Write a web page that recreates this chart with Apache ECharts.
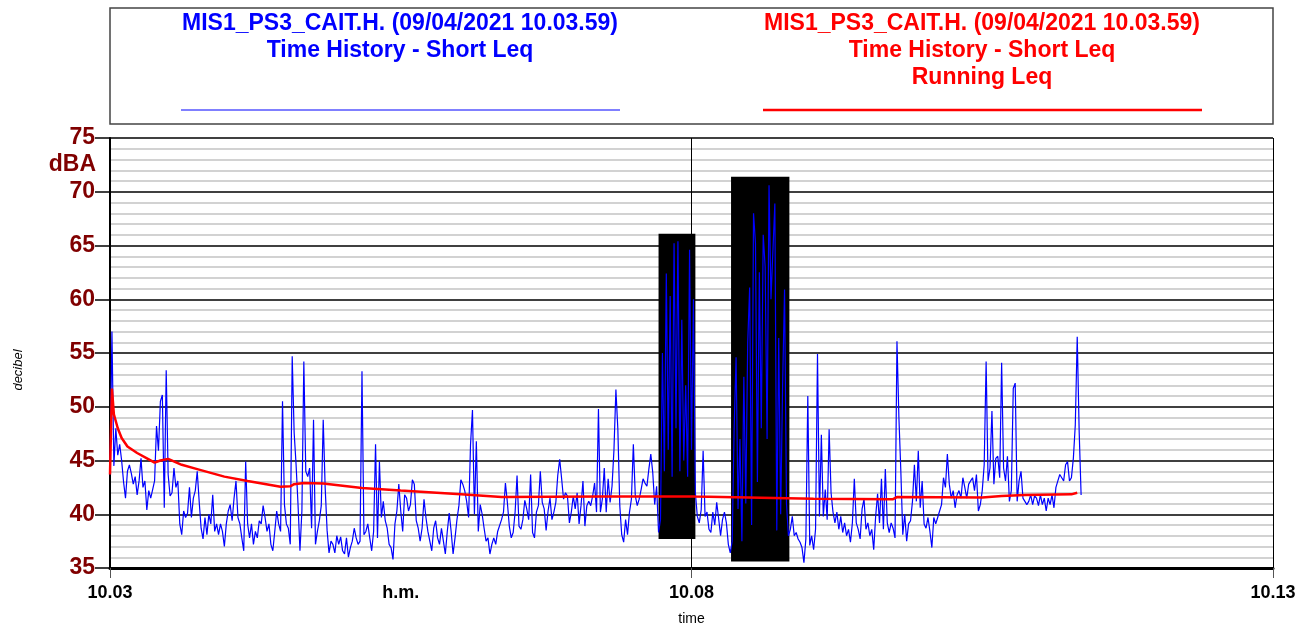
<!DOCTYPE html>
<html><head><meta charset="utf-8">
<script src="https://cdn.jsdelivr.net/npm/echarts/dist/echarts.min.js"></script>
<style>html,body{margin:0;padding:0;background:#fff}#c{width:1306px;height:628px}</style>
</head><body><div id="c"></div>
<script>
// Short Leq values (dBA), one per second starting at 10.03
const shortLeq000 = [43.7, 57.0, 44.5, 48.0, 45.5, 46.5, 45.0, 43.0, 41.5, 44.0,
  44.6, 43.8, 42.8, 43.5, 41.8, 43.1, 45.2, 42.5, 43.1, 40.4,
  42.2, 41.5, 42.3, 43.1, 48.2, 45.9, 50.5, 51.1, 40.6, 53.4,
  43.7, 41.7, 42.0, 44.3, 42.5, 43.1, 39.1, 38.1, 40.3, 39.7,
  40.1, 42.5, 39.7, 41.5, 42.2, 44.0, 41.2, 38.7, 37.7, 39.7,
  38.1, 40.0, 39.1, 41.8, 38.4, 39.1, 38.1, 39.1, 38.4, 37.0,
  39.1, 40.3, 40.9, 39.4, 41.5, 43.1, 39.7, 39.1, 37.8, 36.6,
  44.9, 39.1, 37.8, 39.1, 37.2, 38.4, 37.8, 39.4, 39.1, 40.8,
  39.7, 38.4, 39.1, 37.2, 36.6, 38.4, 40.3, 39.1, 38.4, 50.5,
  40.9, 39.1, 38.7, 37.2, 54.7, 47.6, 44.6, 40.9, 36.6, 40.3];
const shortLeq100 = [54.2, 44.0, 43.5, 44.3, 38.7, 48.8, 37.2, 38.4, 39.4, 40.8,
  48.8, 42.5, 38.5, 36.4, 37.5, 37.2, 36.4, 38.0, 37.2, 37.9,
  36.6, 36.3, 37.8, 36.0, 36.9, 37.5, 38.7, 37.8, 37.2, 37.5,
  53.3, 38.1, 38.4, 39.1, 37.8, 36.6, 38.4, 46.5, 37.8, 44.9,
  39.7, 41.2, 39.4, 38.7, 37.2, 36.9, 35.8, 39.1, 40.3, 42.8,
  40.3, 38.4, 41.8, 41.5, 40.3, 40.9, 43.2, 42.8, 39.4, 38.7,
  37.5, 38.7, 41.4, 39.7, 38.4, 37.5, 36.6, 38.7, 39.4, 37.8,
  37.2, 38.7, 37.5, 36.3, 38.4, 40.1, 38.4, 36.3, 37.8, 39.5,
  40.8, 43.2, 42.8, 42.2, 41.2, 39.7, 46.5, 49.7, 40.0, 46.8,
  38.4, 40.9, 40.0, 38.7, 37.5, 37.8, 36.3, 37.2, 37.8, 37.2];
const shortLeq200 = [38.4, 38.3, 39.5, 40.2, 42.9, 41.1, 38.9, 37.8, 38.3, 40.2,
  43.6, 38.9, 38.6, 39.5, 41.3, 40.5, 39.5, 43.7, 38.3, 37.8,
  40.2, 40.8, 44.0, 41.1, 40.5, 38.5, 40.3, 41.5, 39.5, 40.2,
  41.1, 43.6, 45.1, 43.3, 41.4, 42.0, 41.7, 39.2, 40.2, 41.7,
  40.5, 42.0, 39.1, 40.8, 43.1, 38.9, 40.8, 41.2, 40.8, 41.7,
  42.9, 40.2, 49.8, 40.2, 41.4, 44.3, 40.2, 43.3, 41.1, 42.6,
  46.0, 51.6, 47.9, 40.8, 38.1, 37.4, 39.5, 38.1, 40.2, 41.4,
  46.5, 41.7, 40.8, 41.4, 42.3, 43.3, 42.9, 42.6, 44.2, 45.6,
  43.9, 40.9, 42.6, 38.3, 39.5, 55.0, 44.0, 62.4, 46.0, 60.3,
  43.5, 65.2, 48.0, 65.4, 44.0, 58.1, 45.0, 52.0, 43.5, 64.6];
const shortLeq300 = [46.0, 60.0, 42.0, 39.8, 39.2, 40.4, 45.9, 39.8, 40.2, 38.6,
  38.3, 40.2, 39.0, 41.1, 39.6, 38.0, 39.5, 40.2, 39.2, 37.2,
  36.4, 37.5, 48.0, 54.6, 40.5, 47.0, 37.5, 52.8, 41.0, 56.0,
  61.1, 39.0, 68.0, 65.2, 43.0, 62.5, 48.0, 66.0, 63.0, 47.0,
  70.6, 60.0, 64.5, 68.9, 38.5, 56.4, 40.0, 52.0, 60.9, 41.0,
  38.0, 38.6, 39.8, 38.0, 38.3, 37.7, 37.4, 36.9, 35.5, 37.7,
  51.0, 37.1, 38.0, 36.7, 38.6, 54.9, 39.8, 47.4, 39.8, 42.3,
  39.5, 47.9, 42.0, 40.2, 39.2, 40.2, 38.6, 39.8, 38.3, 39.2,
  38.0, 38.6, 37.4, 39.2, 43.3, 39.2, 38.6, 37.7, 40.5, 41.4,
  38.6, 39.2, 38.0, 38.6, 36.7, 39.8, 41.9, 39.2, 43.3, 38.6];
const shortLeq400 = [44.2, 39.2, 38.3, 39.2, 38.7, 37.8, 56.1, 49.0, 44.0, 38.1,
  40.0, 37.5, 39.1, 39.4, 41.2, 44.6, 41.2, 45.9, 40.6, 43.1,
  39.1, 38.7, 39.7, 38.4, 36.9, 39.7, 39.1, 39.7, 40.3, 40.9,
  43.4, 42.5, 45.6, 42.8, 41.5, 42.2, 40.6, 41.8, 42.2, 41.5,
  43.4, 42.5, 41.5, 42.8, 43.1, 43.4, 42.2, 43.7, 40.3, 40.9,
  42.2, 44.6, 54.2, 43.1, 44.3, 49.6, 42.8, 45.2, 45.4, 43.4,
  54.1, 44.3, 43.1, 45.4, 41.2, 42.2, 51.7, 52.2, 41.2, 43.1,
  44.0, 41.5, 41.2, 40.9, 41.2, 41.8, 40.9, 41.7, 41.5, 40.8,
  41.8, 40.9, 41.5, 40.3, 41.5, 40.9, 41.8, 40.6, 42.5, 43.1,
  43.7, 43.4, 43.1, 44.6, 44.9, 43.1, 43.4, 45.2, 48.3, 56.5,
  47.7, 41.8];

// Running Leq (seconds after 10.03, dBA)
const runningSec = [0, 1, 2, 4, 6, 9, 14, 20, 23, 26, 30, 37, 45, 59, 71, 88, 93, 95, 100, 110,
  130, 150, 181, 202, 253, 299, 302, 363, 404, 406, 450, 460, 472, 496, 499];
const runningDb = [43.7, 51.7, 49.3, 48.0, 47.1, 46.3, 45.7, 45.1, 44.8, 45.0, 45.15, 44.6, 44.2, 43.5, 43.1, 42.55, 42.6, 42.8, 42.9, 42.85,
  42.45, 42.2, 41.85, 41.6, 41.65, 41.65, 41.64, 41.45, 41.4, 41.6, 41.55, 41.7, 41.8, 41.85, 42.0];

// Masked periods: [startSec, endSec, lowDb, highDb]
const maskedPeriods = [[283, 302, 37.7, 66.1], [320.4, 350.5, 35.6, 71.4]];

const xTickSec = [0, 300, 600];
const xTickLabels = ['10.03', '10.08', '10.13'];
const xUnitLabel = 'h.m.';
const yTicks = [35, 40, 45, 50, 55, 60, 65, 70, 75];
const titleLine = 'MIS1_PS3_CAIT.H. (09/04/2021 10.03.59)';
const subLine = 'Time History - Short Leq';
const runLine = 'Running Leq';

const shortLeq = [].concat(shortLeq000, shortLeq100, shortLeq200, shortLeq300, shortLeq400);
const blueData = shortLeq.map((v, i) => [i, v]);
const redData = runningSec.map((s, i) => [s, runningDb[i]]);

const FONT = 'Liberation Sans, Arial, sans-serif';
const chart = echarts.init(document.getElementById('c'), null, {renderer: 'canvas'});
chart.setOption({
  animation: false,
  backgroundColor: '#fff',
  grid: {left: 110, right: 33, top: 138, bottom: 60, containLabel: false, outerBoundsMode: 'none'},
  xAxis: [{
    type: 'value', min: xTickSec[0], max: xTickSec[xTickSec.length - 1], interval: 300,
    name: 'time', nameLocation: 'middle', nameGap: 44,
    nameTextStyle: {color: '#000', fontSize: 14, fontFamily: FONT},
    axisLine: {show: true, onZero: false, lineStyle: {color: '#000', width: 3}},
    axisTick: {show: true, length: 10, lineStyle: {color: '#555', width: 1}},
    axisLabel: {margin: 16, color: '#000', fontSize: 18, fontWeight: 'bold', fontFamily: FONT,
      formatter: v => { const k = xTickSec.indexOf(v); return k >= 0 ? xTickLabels[k] : ''; }},
    splitLine: {show: true, lineStyle: {color: '#000', width: 1}}
  }, {
    type: 'value', min: 0, max: 600, interval: 150, position: 'bottom',
    axisLine: {show: false}, axisTick: {show: false}, splitLine: {show: false},
    axisLabel: {margin: 16, color: '#000', fontSize: 18, fontWeight: 'bold', fontFamily: FONT,
      formatter: v => v === 150 ? xUnitLabel : ''}
  }],
  yAxis: {
    type: 'value', min: yTicks[0], max: yTicks[yTicks.length - 1], interval: 5,
    axisLine: {show: true, onZero: false, lineStyle: {color: '#000', width: 2}},
    axisTick: {show: true, length: 15, lineStyle: {color: '#000', width: 1.5}},
    axisLabel: {margin: 15, color: '#800000', fontSize: 23, fontWeight: 'bold', fontFamily: FONT},
    splitLine: {show: true, lineStyle: {color: '#000', width: 1.5}},
    minorTick: {show: false, splitNumber: 5},
    minorSplitLine: {show: true, lineStyle: {color: '#c4c4c4', width: 1.5}}
  },
  series: [{
    type: 'line', name: 'Short Leq', data: blueData, showSymbol: false, z: 3,
    lineStyle: {color: '#0000ff', width: 1.2}, itemStyle: {color: '#0000ff'},
    markArea: {silent: true, z: 1, itemStyle: {color: '#000', opacity: 1},
      data: maskedPeriods.map(p => [{xAxis: p[0], yAxis: p[3]}, {xAxis: p[1], yAxis: p[2]}])}
  }, {
    type: 'line', name: 'Running Leq', data: redData, showSymbol: false, z: 4,
    lineStyle: {color: '#ff0000', width: 2.5}, itemStyle: {color: '#ff0000'}
  }],
  graphic: [
    {type: 'rect', shape: {x: 110, y: 8, width: 1163, height: 116}, style: {fill: 'none', stroke: '#444', lineWidth: 1.5}},
    {type: 'text', x: 400, y: 22, style: {text: titleLine, fill: '#0000ff', font: 'bold 23px ' + FONT, textAlign: 'center', textVerticalAlign: 'middle'}},
    {type: 'text', x: 400, y: 49, style: {text: subLine, fill: '#0000ff', font: 'bold 23px ' + FONT, textAlign: 'center', textVerticalAlign: 'middle'}},
    {type: 'line', shape: {x1: 181, y1: 110, x2: 620, y2: 110}, style: {stroke: '#0000ff', lineWidth: 1}},
    {type: 'text', x: 982, y: 22, style: {text: titleLine, fill: '#ff0000', font: 'bold 23px ' + FONT, textAlign: 'center', textVerticalAlign: 'middle'}},
    {type: 'text', x: 982, y: 49, style: {text: subLine, fill: '#ff0000', font: 'bold 23px ' + FONT, textAlign: 'center', textVerticalAlign: 'middle'}},
    {type: 'text', x: 982, y: 76, style: {text: runLine, fill: '#ff0000', font: 'bold 23px ' + FONT, textAlign: 'center', textVerticalAlign: 'middle'}},
    {type: 'line', shape: {x1: 763, y1: 110, x2: 1202, y2: 110}, style: {stroke: '#ff0000', lineWidth: 2.5}},
    {type: 'text', x: 96, y: 165, style: {text: 'dBA', fill: '#800000', font: 'bold 23px ' + FONT, textAlign: 'right', textVerticalAlign: 'middle'}},
    {type: 'text', x: 18, y: 370, rotation: Math.PI / 2, style: {text: 'decibel', fill: '#000', font: 'italic 13px ' + FONT, textAlign: 'center', textVerticalAlign: 'middle'}}
  ].map(g => (g.type === 'text' && g.y < 100) ? Object.assign(g, {y: g.y + 1.5}) : g)
});
</script></body></html>
